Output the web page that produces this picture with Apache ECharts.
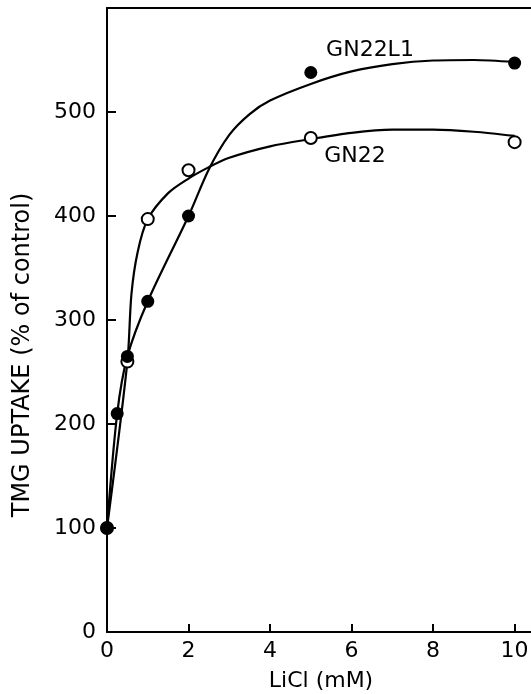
<!DOCTYPE html>
<html>
<head>
<meta charset="utf-8">
<script src="https://cdn.jsdelivr.net/npm/echarts@6/dist/echarts.min.js"></script>
<style>
  html, body { margin: 0; padding: 0; background: #fff; }
  #chart { width: 531px; height: 694px; }
</style>
</head>
<body>
<div id="chart"></div>
<script>
// Measured points: LiCl concentration (mM) vs TMG uptake (% of control)
const gn22l1X = [0, 0.25, 0.5, 1, 2, 5, 10];
const gn22l1Y = [100, 210, 265, 318, 400, 538, 547];
const gn22X = [0, 0.5, 1, 2, 5, 10];
const gn22Y = [100, 260, 397, 444, 475, 471];

// Hand-fitted curves
const gn22l1CurveX = [0, 0.25, 0.5, 1, 2, 2.5, 3, 3.5, 4, 5, 6, 7, 8, 9, 10];
const gn22l1CurveY = [100, 210, 265, 318, 400, 445, 478, 498, 511, 527, 539, 546, 549.5, 550, 548];
const gn22CurveX = [0, 0.5, 0.6, 0.75, 1, 1.5, 2, 2.5, 3, 4, 5, 6, 7, 8, 9, 10];
const gn22CurveY = [100, 260, 325, 365, 397, 422, 436, 447, 456, 467, 474, 480, 483, 483, 481, 477];

const xTicks = [0, 2, 4, 6, 8, 10];
const yTicks = [0, 100, 200, 300, 400, 500];

const pairs = (xs, ys) => xs.map((x, i) => [x, ys[i]]);

const FONT = 'DejaVu Sans';
const INK = '#000';

const chart = echarts.init(document.getElementById('chart'), null, { renderer: 'canvas' });

chart.setOption({
  backgroundColor: '#fff',
  animation: false,
  grid: { left: 107, right: -4, top: 8, bottom: 62, containLabel: false, outerBoundsMode: 'none' },
  xAxis: [
    {
      type: 'value', min: 0, max: 10.5, interval: 2,
      axisLine: { show: true, onZero: false, lineStyle: { color: INK, width: 2 } },
      axisTick: { show: true, inside: true, length: 8, lineStyle: { color: INK, width: 2 } },
      splitLine: { show: false },
      axisLabel: {
        color: INK, fontFamily: FONT, fontSize: 22, margin: 8,
        formatter: v => (xTicks.indexOf(v) >= 0 ? String(v) : '')
      },
      name: 'LiCl (mM)', nameLocation: 'middle', nameGap: 38,
      nameTextStyle: { color: INK, fontFamily: FONT, fontSize: 22 }
    },
    {
      type: 'value', position: 'top', min: 0, max: 10.5,
      axisLine: { show: true, onZero: false, lineStyle: { color: INK, width: 2 } },
      axisTick: { show: false }, axisLabel: { show: false }, splitLine: { show: false }
    }
  ],
  yAxis: {
    type: 'value', min: 0, max: 600, interval: 100,
    axisLine: { show: true, onZero: false, lineStyle: { color: INK, width: 2 } },
    axisTick: { show: true, inside: true, length: 9, lineStyle: { color: INK, width: 2 } },
    splitLine: { show: false },
    axisLabel: {
      color: INK, fontFamily: FONT, fontSize: 22, margin: 11,
      formatter: v => (yTicks.indexOf(v) >= 0 ? String(v) : '')
    }
  },
  graphic: [
    {
      type: 'text', x: 23, y: 355, rotation: Math.PI / 2,
      style: {
        text: 'TMG UPTAKE (% of control)', fill: INK,
        font: '24px "DejaVu Sans"', align: 'center', verticalAlign: 'middle'
      }
    },
    {
      type: 'text', x: 370, y: 50,
      style: { text: 'GN22L1', fill: INK, font: '22px "DejaVu Sans"', align: 'center', verticalAlign: 'middle' }
    },
    {
      type: 'text', x: 355, y: 156,
      style: { text: 'GN22', fill: INK, font: '22px "DejaVu Sans"', align: 'center', verticalAlign: 'middle' }
    }
  ],
  series: [
    {
      name: 'GN22 curve', type: 'line', data: pairs(gn22CurveX, gn22CurveY),
      smooth: 0.3, showSymbol: false, symbol: 'none',
      lineStyle: { color: INK, width: 2.2 }, z: 2
    },
    {
      name: 'GN22L1 curve', type: 'line', data: pairs(gn22l1CurveX, gn22l1CurveY),
      smooth: 0.3, showSymbol: false, symbol: 'none',
      lineStyle: { color: INK, width: 2.2 }, z: 2
    },
    {
      name: 'GN22', type: 'scatter', data: pairs(gn22X, gn22Y),
      symbol: 'circle', symbolSize: 12,
      itemStyle: { color: '#fff', borderColor: INK, borderWidth: 2, opacity: 1 }, z: 3
    },
    {
      name: 'GN22L1', type: 'scatter', data: pairs(gn22l1X, gn22l1Y),
      symbol: 'circle', symbolSize: 13,
      itemStyle: { color: INK, borderWidth: 0, opacity: 1 }, z: 4
    }
  ]
});
</script>
</body>
</html>
